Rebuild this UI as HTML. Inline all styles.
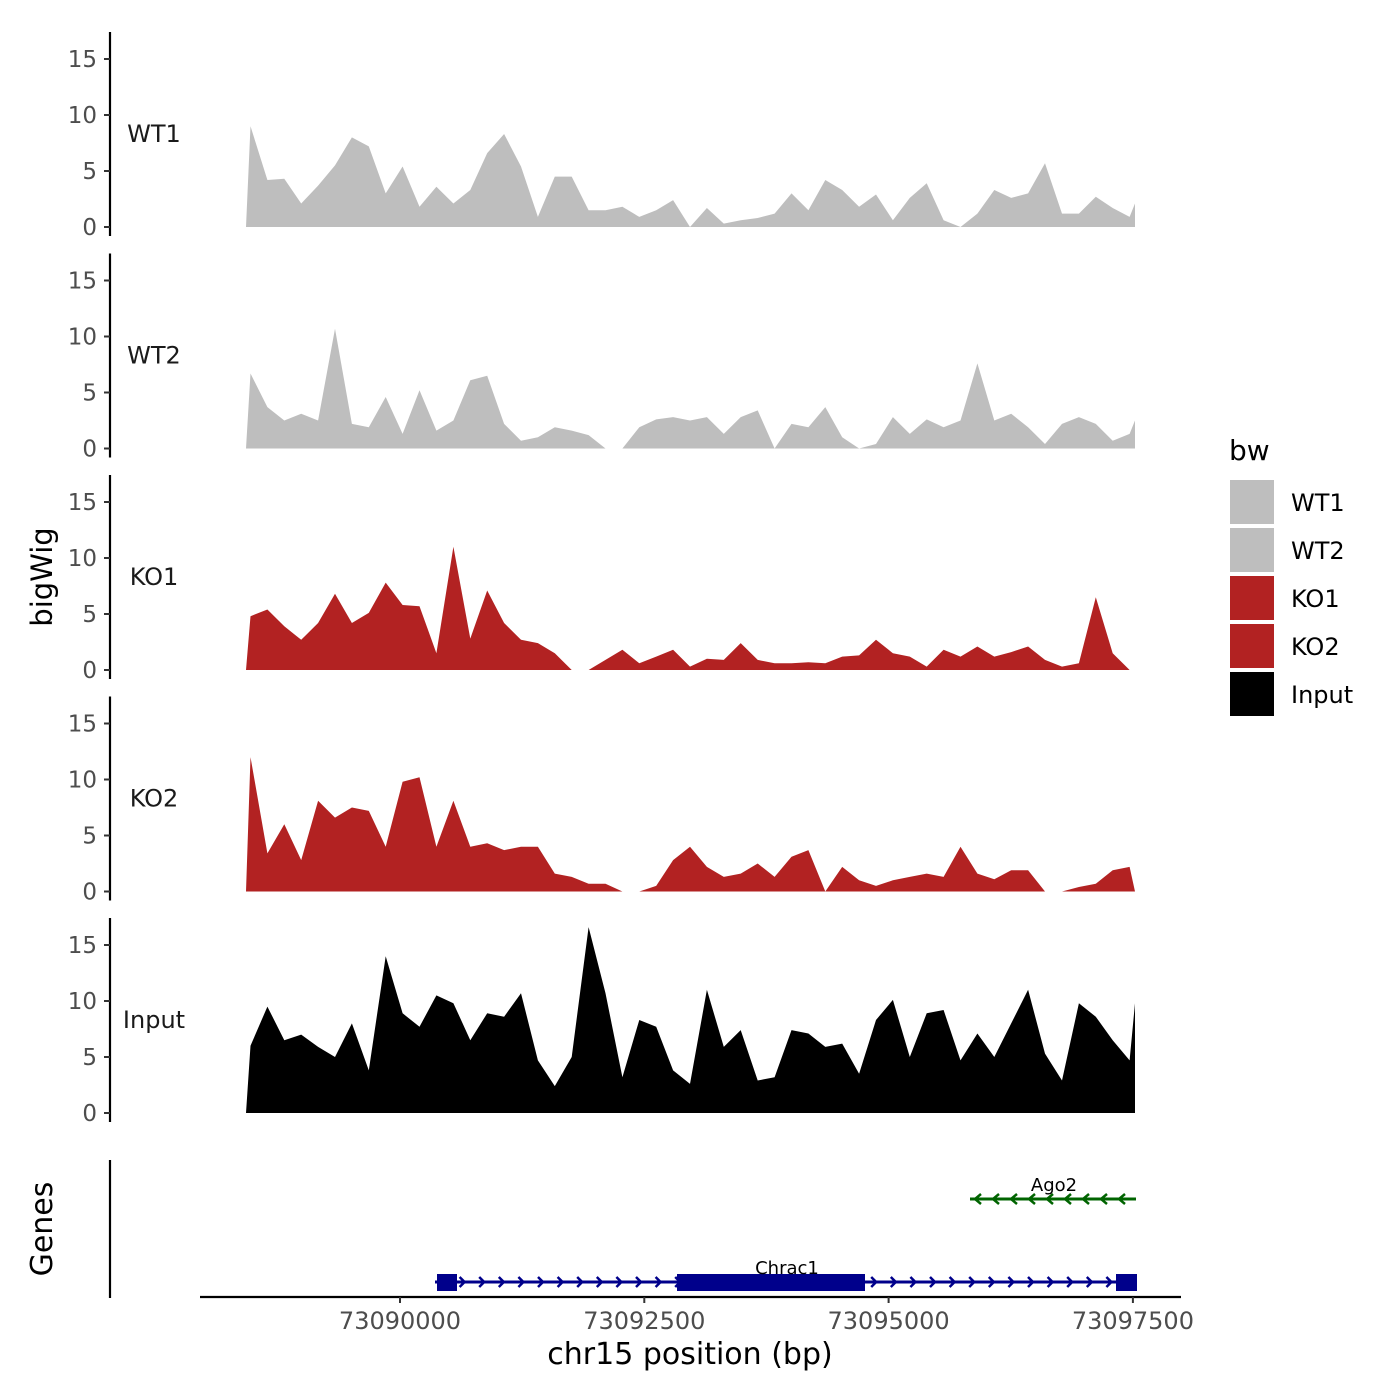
<!DOCTYPE html>
<html><head><meta charset="utf-8"><style>
body{margin:0;background:#fff}
svg{display:block;font-family:"DejaVu Sans","Liberation Sans",sans-serif}
</style></head><body>
<svg id="chart" width="1400" height="1400" viewBox="0 0 1400 1400" xmlns="http://www.w3.org/2000/svg">
<rect width="1400" height="1400" fill="#fff"/>
<g id="tracks"></g>
<text transform="translate(52,577) rotate(-90)" text-anchor="middle" font-size="29" fill="#000">bigWig</text>
<text transform="translate(52,1229) rotate(-90)" text-anchor="middle" font-size="30" fill="#000">Genes</text>
<g id="genes"></g>
<g id="xaxis"></g>
<text x="690" y="1364" text-anchor="middle" font-size="30" fill="#000">chr15 position (bp)</text>
<g id="legend"></g>
</svg>
<script>
const trackNames = ["WT1","WT2","KO1","KO2","Input"];
const trackColors = ["#bebebe","#bebebe","#b22222","#b22222","#000000"];
const startBp = 73088470;
const stepBp = 173;
const wt1 = [9.0,4.2,4.3,2.1,3.7,5.5,8.0,7.2,3.0,5.4,1.8,3.6,2.1,3.3,6.6,8.3,5.4,0.9,4.5,4.5,1.5,1.5,1.8,0.9,1.5,2.4,0,1.7,0.3,0.6,0.8,1.2,3.0,1.5,4.2,3.3,1.8,2.9,0.6,2.6,3.9,0.6,0,1.2,3.3,2.6,3.0,5.7,1.2,1.2,2.7,1.7,0.9,2.1];
const wt2 = [6.7,3.7,2.5,3.1,2.5,10.7,2.2,1.9,4.6,1.3,5.2,1.6,2.5,6.1,6.5,2.2,0.7,1.0,1.9,1.6,1.2,0,0,1.9,2.6,2.8,2.5,2.8,1.3,2.8,3.4,0,2.2,1.9,3.7,1.0,0,0.4,2.8,1.3,2.6,1.9,2.5,7.6,2.5,3.1,1.9,0.4,2.2,2.8,2.2,0.7,1.3,2.5];
const ko1 = [4.8,5.4,3.9,2.7,4.2,6.8,4.2,5.1,7.8,5.8,5.7,1.5,11.0,2.8,7.1,4.2,2.7,2.4,1.5,0,0,0.9,1.8,0.6,1.2,1.8,0.3,1.0,0.9,2.4,0.9,0.6,0.6,0.7,0.6,1.2,1.3,2.7,1.5,1.2,0.3,1.8,1.2,2.1,1.2,1.6,2.1,0.9,0.3,0.6,6.5,1.5,0,0];
const ko2 = [12.0,3.4,6.0,2.8,8.1,6.6,7.5,7.2,4.0,9.8,10.2,4.0,8.1,4.0,4.3,3.7,4.0,4.0,1.6,1.3,0.7,0.7,0,0,0.5,2.8,4.0,2.2,1.3,1.6,2.5,1.3,3.1,3.7,0,2.2,1.0,0.5,1.0,1.3,1.6,1.3,4.0,1.6,1.1,1.9,1.9,0,0,0.4,0.7,1.9,2.2,0];
const inputSig = [6.0,9.5,6.5,7.0,5.9,5.0,8.0,3.8,14.0,8.9,7.7,10.5,9.8,6.5,8.9,8.6,10.7,4.7,2.4,5.0,16.6,10.7,3.2,8.3,7.7,3.8,2.6,11.0,5.9,7.4,2.9,3.2,7.4,7.1,5.9,6.2,3.5,8.3,10.1,5.0,8.9,9.2,4.7,7.1,5.0,8.0,11.0,5.3,2.9,9.8,8.6,6.5,4.7,9.8];
const trackData = [wt1, wt2, ko1, ko2, inputSig];
const yTicks = [0,5,10,15];
const xTicks = [73090000,73092500,73095000,73097500];
const xTickLabels = ["73090000","73092500","73095000","73097500"];
const legendLabels = ["WT1","WT2","KO1","KO2","Input"];

const NS="http://www.w3.org/2000/svg";
function mk(tag, attrs, parent){const e=document.createElementNS(NS,tag);for(const k in attrs)e.setAttribute(k,attrs[k]);parent.appendChild(e);return e;}
const xScale = bp => 400 + (bp-73090000)*244.3/2500;
const xMin = 246, xMax = 1135;
const panelBase = [227,448.5,670,891.5,1113];
const yScale = (v,p) => panelBase[p] - v*11.2;

const tracksG=document.getElementById('tracks');
trackNames.forEach((name,p)=>{
  const g=mk('g',{},tracksG);
  
  
  const vals=trackData[p];
  let d='M'+xMin+','+panelBase[p];
  vals.forEach((v,i)=>{
    let x=xScale(startBp+i*stepBp);
    if(x<xMin)x=xMin; if(x>xMax)x=xMax;
    d+=' L'+x.toFixed(1)+','+yScale(v,p).toFixed(1);
  });
  d+=' L'+xMax+','+panelBase[p]+' Z';
  const area=mk('path',{d:d,fill:trackColors[p]},g);
  
  
  const ax=mk('line',{x1:110,x2:110,y1:panelBase[p]-195,y2:panelBase[p]+9,stroke:'#000','stroke-width':2.2},g);
  
  
  yTicks.forEach(t=>{
    const y=yScale(t,p);
    mk('line',{x1:104,x2:110,y1:y,y2:y,stroke:'#333','stroke-width':2},g);
    const tl=mk('text',{x:97,y:y+8,'text-anchor':'end','font-size':23,fill:'#4d4d4d'},g);
    tl.textContent=t;
    
    
  });
  const lab=mk('text',{x:154,y:panelBase[p]-85,'text-anchor':'middle','font-size':24,fill:'#1a1a1a'},g);
  lab.textContent=name;
  
  
});

const gg=document.getElementById('genes');
mk('line',{x1:110,x2:110,y1:1160,y2:1298,stroke:'#000','stroke-width':2.2},gg);
const ago=mk('g',{},gg);


mk('line',{x1:970,x2:1136,y1:1199,y2:1199,stroke:'#006400','stroke-width':3},ago);
for(let x=975;x<1136;x+=18){mk('path',{d:`M${x+6},1194 L${x},1199 L${x+6},1204`,fill:'none',stroke:'#006400','stroke-width':2.5},ago);}
const agoT=mk('text',{x:1054,y:1191,'text-anchor':'middle','font-size':18,fill:'#000'},ago);agoT.textContent='Ago2';
const ch=mk('g',{},gg);


mk('line',{x1:435,x2:1136,y1:1282,y2:1282,stroke:'#00008b','stroke-width':3},ch);
for(let x=440;x<1136;x+=19.6){mk('path',{d:`M${x},1277 L${x+5},1282 L${x},1287`,fill:'none',stroke:'#00008b','stroke-width':2.5},ch);}
[[437,457],[677,865],[1116,1137]].forEach(([a,b])=>mk('rect',{x:a,y:1274,width:b-a,height:17,fill:'#00008b'},ch));
const chT=mk('text',{x:787,y:1274,'text-anchor':'middle','font-size':18,fill:'#000'},ch);chT.textContent='Chrac1';

const xg=document.getElementById('xaxis');
mk('line',{x1:200,x2:1181,y1:1297,y2:1297,stroke:'#000','stroke-width':2.2},xg);
xTicks.forEach((t,i)=>{
  const x=xScale(t);
  mk('line',{x1:x,x2:x,y1:1297,y2:1303,stroke:'#333','stroke-width':2},xg);
  const tl=mk('text',{x:x,y:1329,'text-anchor':'middle','font-size':24,fill:'#4d4d4d'},xg);
  tl.textContent=xTickLabels[i];
  
  
});

const lg=document.getElementById('legend');
const lt=mk('text',{x:1229,y:460,'font-size':28,fill:'#000'},lg);lt.textContent='bw';
legendLabels.forEach((l,i)=>{
  const y=480+i*48;
  const e=mk('g',{},lg);
  
  
  mk('rect',{x:1230,y:y,width:44,height:44,fill:trackColors[i]},e);
  const t=mk('text',{x:1291,y:y+31,'font-size':24,fill:'#000'},e);t.textContent=l;
});
</script>
</body></html>
